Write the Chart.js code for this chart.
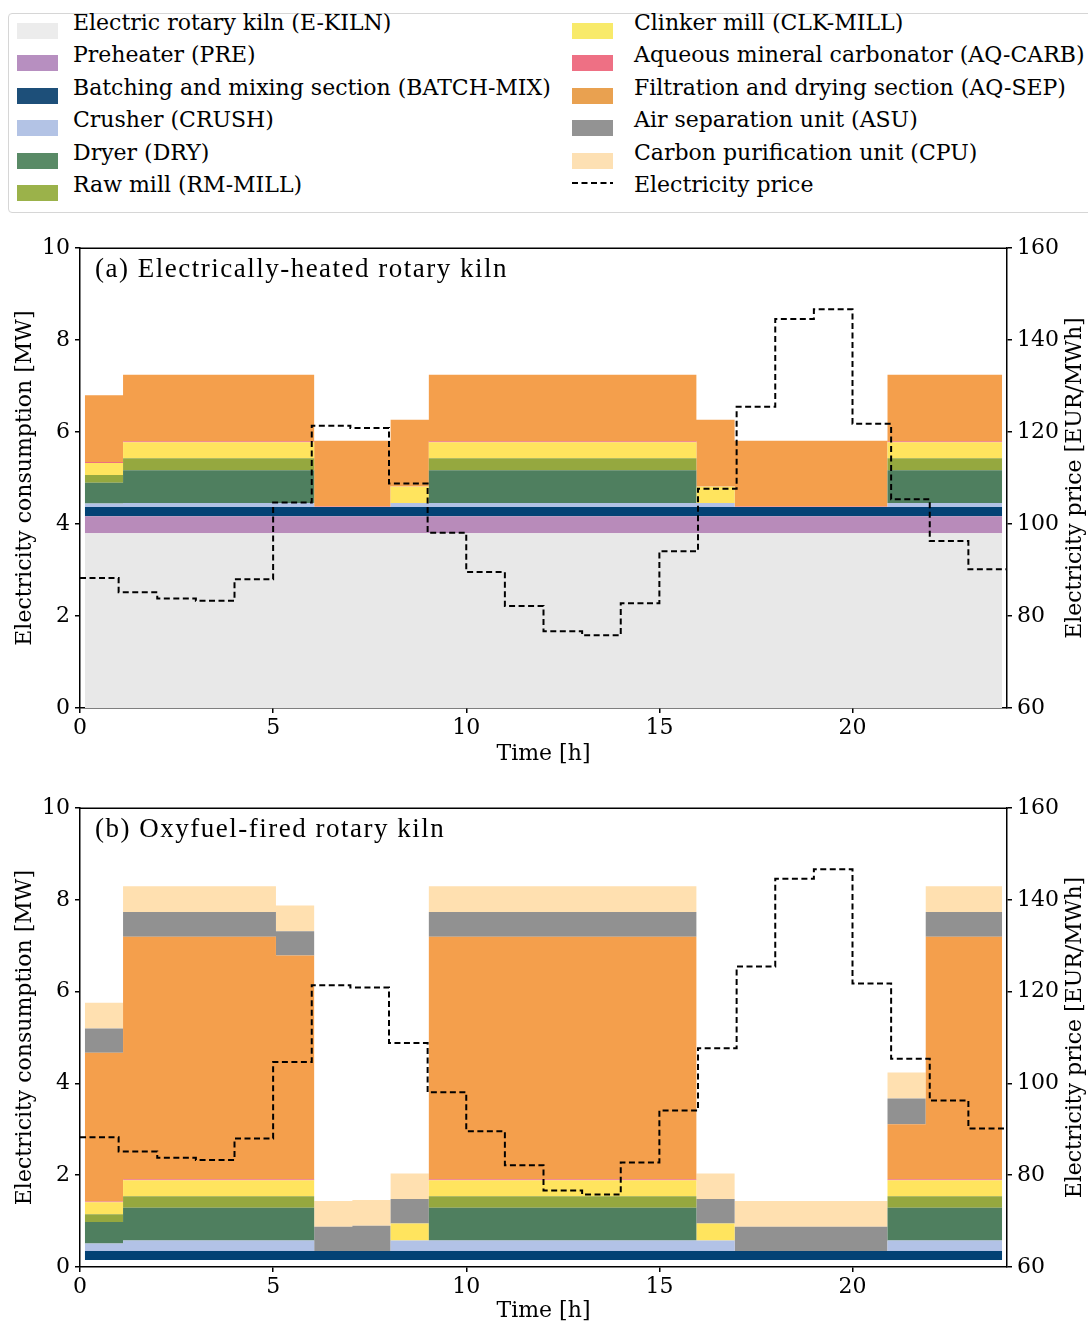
<!DOCTYPE html>
<html><head><meta charset="utf-8">
<script src="https://cdn.jsdelivr.net/npm/chart.js@4.4.1/dist/chart.umd.min.js"></script>
<style>
html,body{margin:0;padding:0;background:#fff;}
body{width:1088px;height:1324px;overflow:hidden;position:relative;font-family:"DejaVu Serif",serif;color:#000;}
#legendBox{position:absolute;left:8px;top:13px;width:1090px;height:200px;border:1px solid #d6d6d6;border-radius:4px;box-sizing:border-box;background:#fff;}
.lt{position:absolute;font-size:22px;line-height:26px;white-space:nowrap;}
.lp{position:absolute;width:41px;height:16px;}
canvas{position:absolute;left:0;}
</style></head><body>
<div id="legendBox"></div>
<canvas id="cA" width="1088" height="560" style="top:230px"></canvas>
<canvas id="cB" width="1088" height="534" style="top:790px"></canvas>
<script>
// ---------------- DATA ----------------
const hours = [0,1,2,3,4,5,6,7,8,9,10,11,12,13,14,15,16,17,18,19,20,21,22,23];
const xTicks = [0,5,10,15,20];
const yTicks = [0,2,4,6,8,10];
const priceTicks = [60,80,100,120,140,160];

const seriesLabels = [
  'Electric rotary kiln (E-KILN)',
  'Preheater (PRE)',
  'Batching and mixing section (BATCH-MIX)',
  'Crusher (CRUSH)',
  'Dryer (DRY)',
  'Raw mill (RM-MILL)',
  'Clinker mill (CLK-MILL)',
  'Aqueous mineral carbonator (AQ-CARB)',
  'Filtration and drying section (AQ-SEP)',
  'Air separation unit (ASU)',
  'Carbon purification unit (CPU)'
];
const priceLabel = 'Electricity price';

// electricity price [EUR/MWh], hourly
const price = [88.3,85.2,83.8,83.3,88.0,104.7,121.4,120.9,108.8,98.1,89.6,82.2,76.7,75.8,82.8,94.1,107.7,125.5,144.6,146.7,121.8,105.4,96.3,90.2];

// (a) electrically-heated rotary kiln [MW]
const ekilnA = [3.8,3.8,3.8,3.8,3.8,3.8,3.8,3.8,3.8,3.8,3.8,3.8,3.8,3.8,3.8,3.8,3.8,3.8,3.8,3.8,3.8,3.8,3.8,3.8];
const preA   = [0.37,0.37,0.37,0.37,0.37,0.37,0.37,0.37,0.37,0.37,0.37,0.37,0.37,0.37,0.37,0.37,0.37,0.37,0.37,0.37,0.37,0.37,0.37,0.37];
const batchA = [0.2,0.2,0.2,0.2,0.2,0.2,0.2,0.2,0.2,0.2,0.2,0.2,0.2,0.2,0.2,0.2,0.2,0.2,0.2,0.2,0.2,0.2,0.2,0.2];
const crushA = [0.08,0.09,0.09,0.09,0.09,0.09,0,0,0.09,0.09,0.09,0.09,0.09,0.09,0.09,0.09,0.09,0,0,0,0,0.09,0.09,0.09];
const dryA   = [0.45,0.71,0.71,0.71,0.71,0.71,0,0,0,0.71,0.71,0.71,0.71,0.71,0.71,0.71,0,0,0,0,0,0.71,0.71,0.71];
const rmA    = [0.17,0.26,0.26,0.26,0.26,0.26,0,0,0,0.26,0.26,0.26,0.26,0.26,0.26,0.26,0,0,0,0,0,0.26,0.26,0.26];
const clkA   = [0.26,0.35,0.35,0.35,0.35,0.35,0,0,0.36,0.35,0.35,0.35,0.35,0.35,0.35,0.35,0.36,0,0,0,0,0.35,0.35,0.35];
const carbA  = [0.02,0.02,0.02,0.02,0.02,0.02,0.01,0.01,0.01,0.02,0.02,0.02,0.02,0.02,0.02,0.02,0.01,0.01,0.01,0.01,0.01,0.02,0.02,0.02];
const sepA   = [1.45,1.45,1.45,1.45,1.45,1.45,1.43,1.43,1.44,1.45,1.45,1.45,1.45,1.45,1.45,1.45,1.44,1.43,1.43,1.43,1.43,1.45,1.45,1.45];
const asuA   = [0,0,0,0,0,0,0,0,0,0,0,0,0,0,0,0,0,0,0,0,0,0,0,0];
const cpuA   = [0,0,0,0,0,0,0,0,0,0,0,0,0,0,0,0,0,0,0,0,0,0,0,0];

// (b) oxyfuel-fired rotary kiln [MW]
const kilnBaseB = [0.15,0.15,0.15,0.15,0.15,0.15,0.15,0.15,0.15,0.15,0.15,0.15,0.15,0.15,0.15,0.15,0.15,0.15,0.15,0.15,0.15,0.15,0.15,0.15];
const ekilnB = [0,0,0,0,0,0,0,0,0,0,0,0,0,0,0,0,0,0,0,0,0,0,0,0];
const preB   = [0,0,0,0,0,0,0,0,0,0,0,0,0,0,0,0,0,0,0,0,0,0,0,0];
const batchB = [0.2,0.2,0.2,0.2,0.2,0.2,0.2,0.2,0.2,0.2,0.2,0.2,0.2,0.2,0.2,0.2,0.2,0.2,0.2,0.2,0.2,0.2,0.2,0.2];
const crushB = [0.16,0.23,0.23,0.23,0.23,0.23,0,0,0.23,0.23,0.23,0.23,0.23,0.23,0.23,0.23,0.23,0,0,0,0,0.23,0.23,0.23];
const dryB   = [0.47,0.71,0.71,0.71,0.71,0.71,0,0,0,0.71,0.71,0.71,0.71,0.71,0.71,0.71,0,0,0,0,0,0.71,0.71,0.71];
const rmB    = [0.17,0.25,0.25,0.25,0.25,0.25,0,0,0,0.25,0.25,0.25,0.25,0.25,0.25,0.25,0,0,0,0,0,0.25,0.25,0.25];
const clkB   = [0.26,0.35,0.35,0.35,0.35,0.35,0,0,0.37,0.35,0.35,0.35,0.35,0.35,0.35,0.35,0.37,0,0,0,0,0.35,0.35,0.35];
const carbB  = [0.02,0.02,0.02,0.02,0.02,0.02,0,0,0,0.02,0.02,0.02,0.02,0.02,0.02,0.02,0,0,0,0,0,0.02,0.02,0.02];
const sepB   = [3.24,5.29,5.29,5.29,5.29,4.88,0,0,0,5.29,5.29,5.29,5.29,5.29,5.29,5.29,0,0,0,0,0,1.20,5.29,5.29];
const asuB   = [0.53,0.54,0.54,0.54,0.54,0.53,0.53,0.55,0.53,0.54,0.54,0.54,0.54,0.54,0.54,0.54,0.53,0.53,0.53,0.53,0.53,0.56,0.54,0.54];
const cpuB   = [0.56,0.56,0.56,0.56,0.56,0.56,0.56,0.56,0.56,0.56,0.56,0.56,0.56,0.56,0.56,0.56,0.56,0.56,0.56,0.56,0.56,0.57,0.56,0.56];

// ---------------- STYLE ----------------
const fillColors   = ['#e8e8e8','#b88bba','#034275','#b2c2e6','#4f7f5f','#95a83f','#ffe45e','#ee6e80','#f49f4c','#919191','#ffe0b0'];
const legendColors = ['#ececec','#b78fc0','#1d4f79','#b3c3e5','#598a66','#9bb24a','#f8ea6a','#ee7084','#e9a150','#939393','#fde0b3'];
const areaSpan = [0.125, 23.875]; // x-extent (h) of the step areas in the original figure
const SERIF = '"DejaVu Serif", serif';
const FS = 22;

// ---------------- LEGEND (HTML) ----------------
(function buildLegend(){
  const rowTop0 = 22.7, rowStep = 32.5;
  const cols = [{patch:17, text:73}, {patch:572, text:634}];
  const entries = seriesLabels.map((l,i)=>({label:l, color:legendColors[i]}));
  entries.push({label: priceLabel, dashed:true});
  entries.forEach((e,i)=>{
    const c = cols[i < 6 ? 0 : 1];
    const r = i < 6 ? i : i - 6;
    const pt = rowTop0 + r*rowStep;
    if (e.dashed) {
      const s = document.createElementNS('http://www.w3.org/2000/svg','svg');
      s.setAttribute('width','41'); s.setAttribute('height','6');
      s.style.position='absolute'; s.style.left=c.patch+'px'; s.style.top=(pt-5)+'px';
      s.innerHTML = '<line x1="0" y1="3" x2="41" y2="3" stroke="#000" stroke-width="2" stroke-dasharray="6,3.5"/>';
      document.body.appendChild(s);
    } else {
      const p = document.createElement('div');
      p.className='lp'; p.style.left=c.patch+'px'; p.style.top=pt+'px'; p.style.background=e.color;
      document.body.appendChild(p);
    }
    const t = document.createElement('div');
    t.className='lt'; t.textContent=e.label;
    t.style.left=c.text+'px'; t.style.top=(pt-13)+'px';
    document.body.appendChild(t);
  });
})();

// ---------------- CHARTS ----------------
Chart.defaults.font.family = SERIF;
Chart.defaults.font.size = FS;
Chart.defaults.color = '#000';

function areaPoints(vals){
  const w = (areaSpan[1]-areaSpan[0]) / vals.length;
  const pts = vals.map((v,i)=>({x: areaSpan[0] + i*w, y: v}));
  pts.push({x: areaSpan[1], y: vals[vals.length-1]});
  return pts;
}
function pricePoints(vals){
  const pts = vals.map((v,i)=>({x: hours[i], y: v}));
  pts.push({x: hours[hours.length-1] + 1, y: vals[vals.length-1]});
  return pts;
}

const framePlugin = {
  id: 'frame',
  afterDraw(chart, args, opts){
    const {ctx, chartArea:{left,right,top,bottom}} = chart;
    ctx.save();
    ctx.strokeStyle = '#000'; ctx.lineWidth = 1.5;
    ctx.beginPath(); ctx.moveTo(left-0.75, top); ctx.lineTo(right+0.75, top); ctx.stroke();
    ctx.fillStyle = '#000';
    ctx.font = '27px "Liberation Serif", serif';
    if ('letterSpacing' in ctx) ctx.letterSpacing = '1.5px';
    ctx.textAlign = 'left'; ctx.textBaseline = 'middle';
    ctx.fillText(opts.label, left + 15, top + 22);
    if ('letterSpacing' in ctx) ctx.letterSpacing = '0px';
    ctx.translate(opts.rightTitleX, (top + bottom)/2);
    ctx.rotate(-Math.PI/2);
    ctx.font = FS + 'px ' + SERIF;
    ctx.textAlign = 'center';
    ctx.fillText(opts.rightTitle, 0, 0);
    ctx.restore();
  }
};

function makeChart(canvasId, layers, baseTransparent, label, padTop, xHeight, xTitlePad){
  const datasets = [{
    label: priceLabel,
    data: pricePoints(price),
    yAxisID: 'y2',
    stepped: 'before',
    borderColor: '#000',
    borderWidth: 2,
    borderDash: [6, 3.5],
    pointRadius: 0,
    fill: false,
    order: 0
  }];
  layers.forEach((vals, i) => {
    const si = i - (baseTransparent ? 1 : 0);
    datasets.push({
      label: si < 0 ? 'base' : seriesLabels[si],
      data: areaPoints(vals),
      yAxisID: 'y',
      stepped: 'before',
      borderWidth: 0,
      borderColor: 'rgba(0,0,0,0)',
      backgroundColor: si < 0 ? 'rgba(255,255,255,0)' : fillColors[si],
      pointRadius: 0,
      fill: i === 0 ? 'origin' : '-1',
      order: 1
    });
  });
  const axisCommon = {
    border: {display: true, color: '#000', width: 1.5},
    grid: {drawOnChartArea: false, drawTicks: true, tickLength: 5, color: '#000', lineWidth: 1.5}
  };
  return new Chart(document.getElementById(canvasId), {
    type: 'line',
    data: {datasets},
    plugins: [framePlugin],
    options: {
      responsive: false, animation: false, devicePixelRatio: 1,
      layout: {padding: {top: padTop, left: 0, right: 0, bottom: 0}},
      plugins: {
        legend: {display: false}, tooltip: {enabled: false},
        frame: {label, rightTitle: 'Electricity price [EUR/MWh]', rightTitleX: 1075}
      },
      elements: {line: {tension: 0}},
      scales: {
        x: Object.assign({}, axisCommon, {
          type: 'linear', min: 0, max: 24,
          afterBuildTicks: s => { s.ticks = xTicks.map(v => ({value: v})); },
          afterFit: s => { s.height = xHeight; },
          ticks: {padding: 2, maxRotation: 0, font: {size: FS}},
          title: {display: true, text: 'Time [h]', font: {size: FS}, padding: {top: 0, bottom: xTitlePad}}
        }),
        y: Object.assign({}, axisCommon, {
          type: 'linear', position: 'left', stacked: true, min: 0, max: 10,
          afterBuildTicks: s => { s.ticks = yTicks.map(v => ({value: v})); },
          afterFit: s => { s.width = 80; },
          ticks: {padding: 5, font: {size: FS}},
          title: {display: true, text: 'Electricity consumption [MW]', font: {size: FS}, padding: {top: 12, bottom: 0}}
        }),
        y2: Object.assign({}, axisCommon, {
          type: 'linear', position: 'right', stacked: false, min: 60, max: 160,
          afterBuildTicks: s => { s.ticks = priceTicks.map(v => ({value: v})); },
          afterFit: s => { s.width = 81; },
          ticks: {padding: 5, font: {size: FS}}
        })
      }
    }
  });
}

makeChart('cA', [ekilnA, preA, batchA, crushA, dryA, rmA, clkA, carbA, sepA, asuA, cpuA], false,
  '(a) Electrically-heated rotary kiln', 18, 82, 23);
makeChart('cB', [kilnBaseB, ekilnB, preB, batchB, crushB, dryB, rmB, clkB, carbB, sepB, asuB, cpuB], true,
  '(b) Oxyfuel-fired rotary kiln', 17, 57, 0);
</script>
</body></html>
